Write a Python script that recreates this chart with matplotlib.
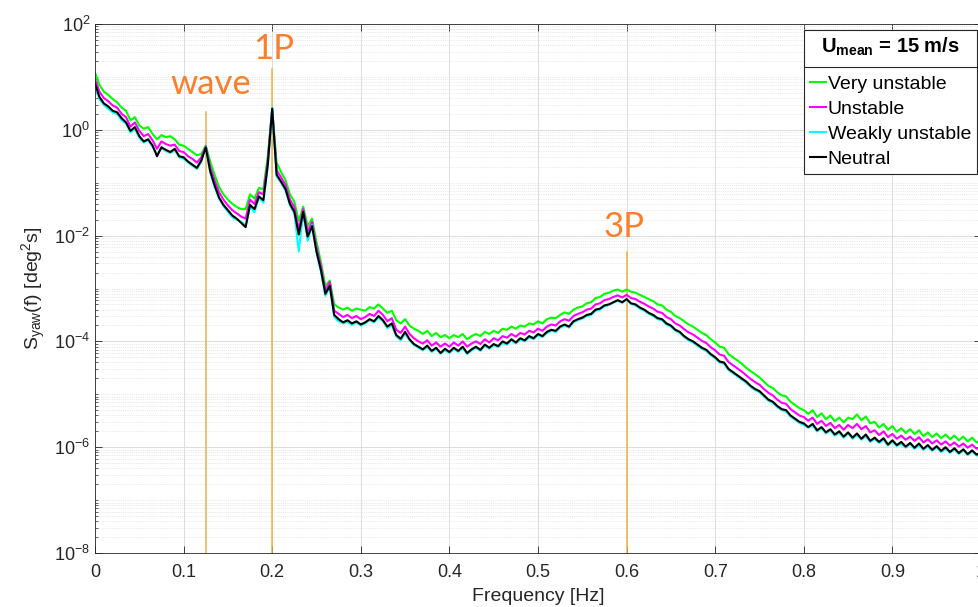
import numpy as np
import matplotlib.pyplot as plt
from matplotlib.lines import Line2D
from matplotlib.ticker import LogLocator, NullFormatter

plt.rcParams['font.family'] = ['Liberation Sans', 'DejaVu Sans']
plt.rcParams['mathtext.fontset'] = 'custom'
plt.rcParams['mathtext.rm'] = 'Liberation Sans'
plt.rcParams['mathtext.it'] = 'Liberation Sans:italic'
plt.rcParams['mathtext.bf'] = 'Liberation Sans:bold'
plt.rcParams['mathtext.default'] = 'regular'

# frequency axis, 0.005 Hz steps
freq = np.linspace(0.0, 1.0, 201)

# log10 of S_yaw
neutral = [
    0.88, 0.62, 0.50, 0.44, 0.36, 0.33, 0.22, 0.14, -0.02, 0.05,
    -0.12, -0.22, -0.18, -0.30, -0.50, -0.33, -0.38, -0.42, -0.36, -0.50,
    -0.52, -0.60, -0.66, -0.72, -0.58, -0.33, -0.78, -1.05, -1.28, -1.42,
    -1.52, -1.62, -1.68, -1.76, -1.84, -1.42, -1.50, -1.26, -1.33, -0.66,
    0.40, -0.85, -0.98, -1.12, -1.40, -1.55, -1.98, -1.55, -2.02, -1.82,
    -2.30, -2.65, -3.10, -2.95, -3.50, -3.58, -3.64, -3.60, -3.66, -3.62,
    -3.68, -3.64, -3.58, -3.62, -3.52, -3.60, -3.72, -3.66, -3.88, -3.95,
    -3.82, -3.96, -4.05, -4.10, -4.15, -4.08, -4.18, -4.12, -4.22, -4.14,
    -4.20, -4.12, -4.18, -4.10, -4.22, -4.15, -4.10, -4.16, -4.06, -4.12,
    -4.05, -4.09, -4.00, -4.04, -3.96, -4.02, -3.94, -3.98, -3.90, -3.94,
    -3.86, -3.90, -3.82, -3.78, -3.80, -3.72, -3.68, -3.72, -3.62, -3.58,
    -3.55, -3.50, -3.48, -3.40, -3.38, -3.32, -3.30, -3.26, -3.22, -3.26,
    -3.20, -3.28, -3.30, -3.36, -3.40, -3.46, -3.50, -3.56, -3.58, -3.66,
    -3.70, -3.78, -3.82, -3.90, -3.96, -4.00, -4.06, -4.12, -4.16, -4.24,
    -4.30, -4.38, -4.40, -4.52, -4.58, -4.64, -4.70, -4.76, -4.84, -4.90,
    -4.94, -5.02, -5.10, -5.14, -5.22, -5.28, -5.30, -5.40, -5.46, -5.52,
    -5.55, -5.62, -5.56, -5.68, -5.62, -5.72, -5.66, -5.76, -5.70, -5.80,
    -5.72, -5.82, -5.74, -5.84, -5.76, -5.88, -5.82, -5.90, -5.83, -5.95,
    -5.87, -5.96, -5.90, -5.99, -5.92, -6.01, -5.93, -6.03, -5.96, -6.05,
    -5.98, -6.07, -6.00, -6.09, -6.02, -6.11, -6.04, -6.13, -6.06, -6.14,
    -6.10]

very_unstable = [
    1.08, 0.85, 0.72, 0.66, 0.58, 0.52, 0.42, 0.36, 0.18, 0.24,
    0.08, 0.02, 0.05, -0.08, -0.18, -0.10, -0.14, -0.12, -0.18, -0.28,
    -0.30, -0.36, -0.42, -0.48, -0.46, -0.30, -0.60, -0.85, -1.08, -1.22,
    -1.32, -1.40, -1.46, -1.50, -1.50, -1.22, -1.30, -1.10, -1.12, -0.50,
    0.38, -0.62, -0.80, -0.95, -1.22, -1.36, -1.72, -1.45, -1.82, -1.68,
    -2.12, -2.50, -2.95, -2.85, -3.30, -3.36, -3.40, -3.36, -3.42, -3.38,
    -3.40, -3.42, -3.35, -3.38, -3.30, -3.38, -3.46, -3.42, -3.60, -3.66,
    -3.58, -3.70, -3.76, -3.80, -3.86, -3.80, -3.90, -3.84, -3.92, -3.88,
    -3.94, -3.88, -3.92, -3.86, -3.96, -3.90, -3.86, -3.90, -3.82, -3.86,
    -3.80, -3.84, -3.76, -3.78, -3.72, -3.76, -3.70, -3.72, -3.66, -3.68,
    -3.62, -3.66, -3.58, -3.55, -3.56, -3.50, -3.45, -3.48, -3.40, -3.36,
    -3.34, -3.28, -3.26, -3.18, -3.16, -3.10, -3.08, -3.04, -3.02, -3.06,
    -3.02, -3.06, -3.08, -3.12, -3.16, -3.20, -3.24, -3.30, -3.32, -3.40,
    -3.44, -3.52, -3.56, -3.62, -3.68, -3.72, -3.78, -3.84, -3.88, -3.96,
    -4.02, -4.10, -4.12, -4.24, -4.30, -4.36, -4.42, -4.50, -4.56, -4.62,
    -4.68, -4.76, -4.84, -4.88, -4.96, -5.02, -5.04, -5.14, -5.20, -5.26,
    -5.30, -5.37, -5.30, -5.43, -5.36, -5.47, -5.40, -5.51, -5.44, -5.53,
    -5.44, -5.47, -5.38, -5.49, -5.42, -5.55, -5.52, -5.63, -5.56, -5.67,
    -5.60, -5.71, -5.64, -5.73, -5.66, -5.75, -5.68, -5.79, -5.72, -5.81,
    -5.74, -5.83, -5.76, -5.85, -5.78, -5.87, -5.80, -5.89, -5.82, -5.91,
    -5.86]

unstable = [
    0.96, 0.72, 0.60, 0.54, 0.46, 0.42, 0.30, 0.24, 0.06, 0.14,
    -0.02, -0.12, -0.08, -0.20, -0.36, -0.22, -0.27, -0.30, -0.28, -0.40,
    -0.42, -0.50, -0.55, -0.62, -0.52, -0.31, -0.70, -0.96, -1.18, -1.32,
    -1.43, -1.52, -1.58, -1.64, -1.68, -1.32, -1.40, -1.18, -1.22, -0.58,
    0.39, -0.76, -0.90, -1.04, -1.32, -1.46, -1.88, -1.50, -1.92, -1.74,
    -2.22, -2.58, -3.04, -2.88, -3.42, -3.48, -3.54, -3.50, -3.56, -3.52,
    -3.58, -3.54, -3.48, -3.52, -3.42, -3.50, -3.62, -3.56, -3.78, -3.84,
    -3.72, -3.86, -3.94, -4.00, -4.04, -3.98, -4.08, -4.02, -4.10, -4.04,
    -4.10, -4.02, -4.08, -4.00, -4.10, -4.04, -4.00, -4.05, -3.96, -4.02,
    -3.94, -3.98, -3.90, -3.93, -3.86, -3.91, -3.84, -3.87, -3.80, -3.83,
    -3.76, -3.80, -3.72, -3.68, -3.70, -3.62, -3.58, -3.61, -3.52, -3.48,
    -3.45, -3.40, -3.38, -3.30, -3.28, -3.22, -3.20, -3.16, -3.13, -3.17,
    -3.12, -3.18, -3.20, -3.25, -3.29, -3.34, -3.38, -3.44, -3.46, -3.54,
    -3.58, -3.66, -3.70, -3.77, -3.83, -3.87, -3.93, -3.99, -4.03, -4.11,
    -4.17, -4.25, -4.27, -4.39, -4.45, -4.51, -4.57, -4.64, -4.71, -4.77,
    -4.82, -4.90, -4.97, -5.02, -5.10, -5.16, -5.18, -5.28, -5.34, -5.40,
    -5.43, -5.50, -5.44, -5.56, -5.50, -5.60, -5.54, -5.64, -5.58, -5.67,
    -5.58, -5.64, -5.56, -5.66, -5.60, -5.72, -5.68, -5.77, -5.70, -5.81,
    -5.75, -5.84, -5.78, -5.86, -5.80, -5.88, -5.81, -5.91, -5.85, -5.93,
    -5.87, -5.95, -5.89, -5.97, -5.91, -5.99, -5.93, -6.01, -5.95, -6.03,
    -5.99]

weakly_unstable = [
    0.84, 0.58, 0.47, 0.40, 0.33, 0.30, 0.18, 0.12, -0.05, 0.02,
    -0.15, -0.24, -0.20, -0.32, -0.46, -0.35, -0.40, -0.44, -0.38, -0.52,
    -0.54, -0.62, -0.68, -0.74, -0.60, -0.32, -0.80, -1.08, -1.30, -1.44,
    -1.55, -1.65, -1.70, -1.74, -1.80, -1.45, -1.56, -1.28, -1.38, -0.70,
    0.42, -0.88, -1.00, -1.15, -1.42, -1.58, -2.30, -1.56, -2.10, -1.80,
    -2.32, -2.68, -3.14, -2.96, -3.54, -3.62, -3.66, -3.63, -3.69, -3.64,
    -3.70, -3.66, -3.60, -3.64, -3.55, -3.62, -3.75, -3.69, -3.90, -3.98,
    -3.85, -3.98, -4.07, -4.12, -4.17, -4.10, -4.20, -4.14, -4.23, -4.17,
    -4.22, -4.14, -4.20, -4.12, -4.24, -4.17, -4.12, -4.18, -4.08, -4.14,
    -4.07, -4.11, -4.03, -4.06, -3.98, -4.04, -3.96, -4.00, -3.92, -3.96,
    -3.88, -3.92, -3.84, -3.80, -3.82, -3.74, -3.70, -3.74, -3.64, -3.60,
    -3.57, -3.52, -3.50, -3.42, -3.40, -3.34, -3.31, -3.27, -3.23, -3.27,
    -3.21, -3.29, -3.32, -3.38, -3.42, -3.48, -3.52, -3.58, -3.60, -3.68,
    -3.72, -3.80, -3.84, -3.92, -3.98, -4.02, -4.08, -4.14, -4.18, -4.26,
    -4.32, -4.40, -4.42, -4.54, -4.60, -4.66, -4.72, -4.78, -4.86, -4.92,
    -4.96, -5.04, -5.12, -5.16, -5.24, -5.30, -5.32, -5.42, -5.48, -5.54,
    -5.58, -5.63, -5.59, -5.70, -5.64, -5.74, -5.68, -5.78, -5.73, -5.82,
    -5.74, -5.84, -5.77, -5.86, -5.79, -5.90, -5.84, -5.92, -5.86, -5.97,
    -5.89, -5.98, -5.93, -6.01, -5.94, -6.03, -5.96, -6.05, -5.98, -6.07,
    -6.00, -6.09, -6.03, -6.11, -6.04, -6.13, -6.06, -6.15, -6.08, -6.16,
    -6.12]

series_names = ['Very unstable', 'Unstable', 'Weakly unstable', 'Neutral']
series_colors = ['#00ff00', '#ff00ff', '#00ffff', '#000000']

# marked frequencies
mark_f = [0.125, 0.2, 0.6]
mark_top = [2.2, 14.0, 4.8e-3]
mark_names = ['wave', '1P', '3P']
mark_text_xy = [(0.131, 7.2), (0.202, 34.0), (0.597, 0.0148)]

fig = plt.figure(figsize=(9.79, 6.07), dpi=100)
ax = fig.add_axes([95 / 979, 54 / 607, 886 / 979, 529 / 607])

for vals, name, col in zip([very_unstable, unstable, weakly_unstable, neutral],
                           series_names, series_colors):
    ax.plot(freq, 10.0 ** np.array(vals), color=col, lw=1.5, label=name)

for f0, top in zip(mark_f, mark_top):
    ax.plot([f0, f0], [1e-8, top], color='#f2b040', lw=1.1, zorder=1)
for name, (tx, ty) in zip(mark_names, mark_text_xy):
    ax.text(tx, ty, name, color='#fa7f2c', fontsize=25, family='Lato',
            ha='center', va='center')

ax.set_yscale('log')
ax.set_xlim(0, 1)
ax.set_ylim(1e-8, 1e2)
ax.set_xticks(np.arange(0, 1.01, 0.1))
ax.set_xticklabels(['0', '0.1', '0.2', '0.3', '0.4', '0.5', '0.6', '0.7',
                    '0.8', '0.9', '1'])
ax.set_yticks([1e-8, 1e-6, 1e-4, 1e-2, 1e0, 1e2])
ax.set_yticklabels(['$10^{-8}$', '$10^{-6}$', '$10^{-4}$', '$10^{-2}$',
                    '$10^{0}$', '$10^{2}$'])
ax.yaxis.set_minor_locator(LogLocator(base=10, subs=np.arange(1, 10), numticks=100))
ax.yaxis.set_minor_formatter(NullFormatter())

ax.tick_params(which='both', direction='in', top=True, right=True,
               colors='#262626', labelsize=13)
ax.tick_params(which='major', length=5, width=0.6)
ax.tick_params(which='minor', length=2.5, width=0.5)
ax.tick_params(axis='x', pad=8)
for sp in ax.spines.values():
    sp.set_color('#262626')
    sp.set_linewidth(0.6)

ax.grid(True, which='major', color='#dcdcdc', lw=0.7, ls='-')
ax.grid(True, which='minor', axis='y', color='#d6d6d6', lw=0.5, ls=':')
ax.set_axisbelow(True)

ax.set_xlabel('Frequency [Hz]', fontsize=14, color='#262626', labelpad=5)
ax.set_ylabel('S$_{yaw}$(f) [deg$^2$s]', fontsize=14, color='#262626', labelpad=4)

leg = ax.legend(loc='upper right', bbox_to_anchor=(0.9955, 0.988),
                borderaxespad=0, fontsize=14, fancybox=False, framealpha=1,
                edgecolor='#262626', handlelength=0.8, handletextpad=0.1,
                labelspacing=0.38, borderpad=0.3,
                title=r'$\mathbf{U_{mean}}$ = 15 m/s',
                title_fontproperties={'weight': 'bold', 'size': 14.5})
leg.get_frame().set_linewidth(0.8)
leg._legend_box.sep = 12
for h in leg.get_lines():
    h.set_linewidth(1.5)

# separator line under the legend title
fig.canvas.draw()
fb = leg.get_frame().get_window_extent()
tb = leg.get_title().get_window_extent()
first = leg.get_texts()[0].get_window_extent()
ysep = 0.5 * (tb.y0 + first.y1)
fig.add_artist(Line2D([fb.x0 / 979, fb.x1 / 979], [ysep / 607, ysep / 607],
                      color='#262626', lw=0.8, transform=fig.transFigure))

fig.savefig('out.png', dpi=100)
